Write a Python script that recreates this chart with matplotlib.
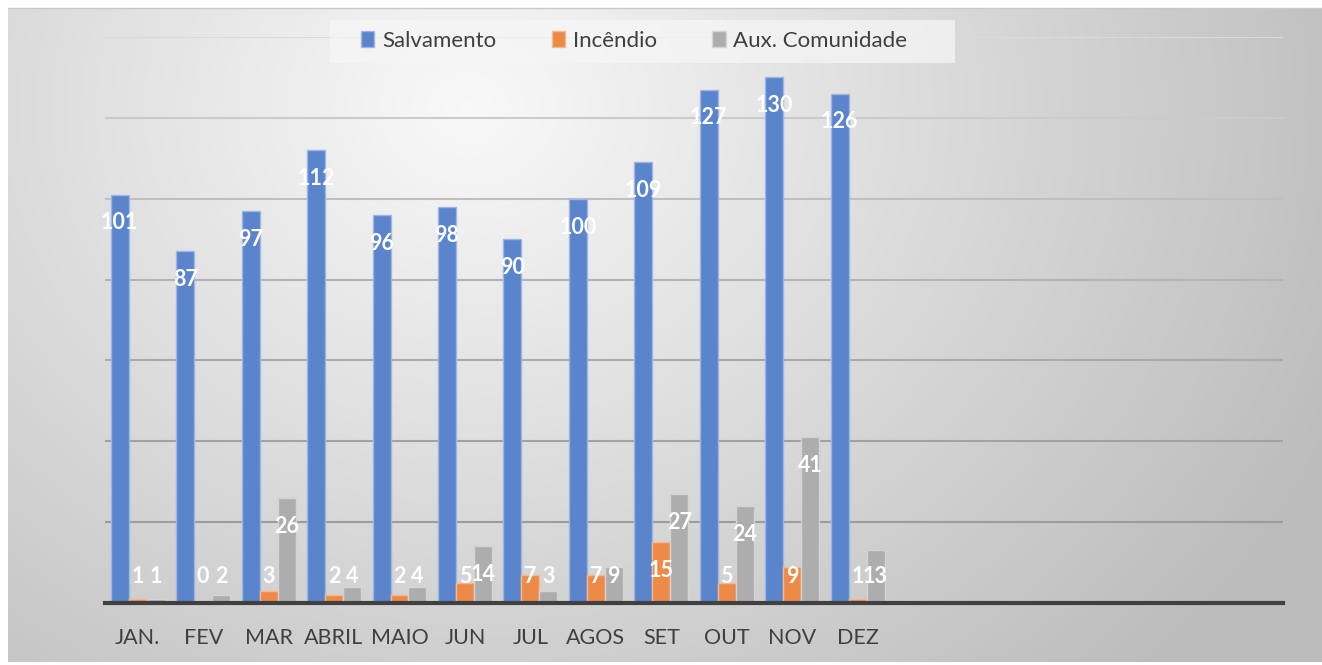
import numpy as np
import matplotlib
matplotlib.use('Agg')
import matplotlib.pyplot as plt
from matplotlib.patches import Patch, Rectangle

meses = ['JAN.', 'FEV', 'MAR', 'ABRIL', 'MAIO', 'JUN', 'JUL', 'AGOS', 'SET', 'OUT', 'NOV', 'DEZ']
salvamento = [101, 87, 97, 112, 96, 98, 90, 100, 109, 127, 130, 126]
incendio = [1, 0, 3, 2, 2, 5, 7, 7, 15, 5, 9, 1]
aux_comunidade = [1, 2, 26, 4, 4, 14, 3, 9, 27, 24, 41, 13]

series = [('Salvamento', salvamento, '#5a84cc', '#9db6e2'),
          ('Incêndio', incendio, '#ed8a47', '#f5b98f'),
          ('Aux. Comunidade', aux_comunidade, '#adadad', '#d4d4d4')]

plt.rcParams['font.family'] = ['Lato', 'DejaVu Sans']

W, H = 1322, 665
fig = plt.figure(figsize=(W / 100, H / 100), dpi=100)
fig.patch.set_facecolor('white')

# background gradient panel
bg = fig.add_axes([8 / W, 3 / H, (W - 8) / W, (H - 11) / H], zorder=0)
yy, xx = np.mgrid[0:H - 11, 0:W - 8]
d = np.sqrt(((xx - 460) / 1.0) ** 2 + ((yy - 100) / 0.85) ** 2)
g = np.clip(0.975 - 0.22 * (d / 880), 0.74, 1)
bg.imshow(np.dstack([g, g, g]), aspect='auto', interpolation='bilinear')
bg.axis('off')
fig.add_artist(plt.Line2D([8 / W, 1], [1 - 8 / H, 1 - 8 / H], color='#c8c8c8', lw=1))

ax = fig.add_axes([105 / W, (H - 603) / H, 1178 / W, (603 - 37) / H], zorder=1)
ax.patch.set_alpha(0)

x = np.arange(len(meses))
w = 0.275
for i, (nome, vals, cor, borda) in enumerate(series):
    pos = x + (i - 1) * w
    ax.bar(pos, vals, width=w, color=cor, edgecolor=borda, linewidth=1, label=nome, zorder=3)
    for p, v in zip(pos, vals):
        ax.text(p, max(v - 7, 6.5), str(v), ha='center', va='center', color='white',
                fontsize=15.5, fontweight='bold', zorder=4)

ax.set_xlim(-0.5, 17.5)
ax.set_ylim(0, 140)
# gridlines get darker towards the bottom, like the original
grid_vals = list(range(20, 141, 20))
grid_cols = ['#9c9c9c', '#a2a2a2', '#aaaaaa', '#b4b4b4', '#bfbfbf', '#cbcbcb', '#dadada']
for gv, gc in zip(grid_vals, grid_cols):
    ax.axhline(gv, color=gc, lw=1.5, zorder=1)
ax.set_yticks([])
ax.set_xticks(x)
ax.set_xticklabels(meses, fontsize=15.5, color='#404040')
ax.tick_params(axis='x', length=0, pad=18)
for s in ['top', 'right', 'left']:
    ax.spines[s].set_visible(False)
ax.spines['bottom'].set_color('#404040')
ax.spines['bottom'].set_linewidth(3)
ax.spines['bottom'].set_zorder(5)

fig.add_artist(Rectangle((330 / W, 1 - 63 / H), 625 / W, 43 / H, transform=fig.transFigure,
                         facecolor='#f6f6f6', alpha=0.75, edgecolor='none', zorder=5))
handles = [Patch(facecolor=c, edgecolor=b, label=n) for n, _, c, b in series]
leg = fig.legend(handles=handles, loc='center', bbox_to_anchor=(634 / W, 1 - 41 / H), ncol=3,
                 fontsize=16, frameon=False, handlelength=0.6, handleheight=0.7,
                 handletextpad=0.35, columnspacing=2.5, labelcolor='#404040')
leg.set_zorder(6)

fig.savefig('out.png', dpi=100)
